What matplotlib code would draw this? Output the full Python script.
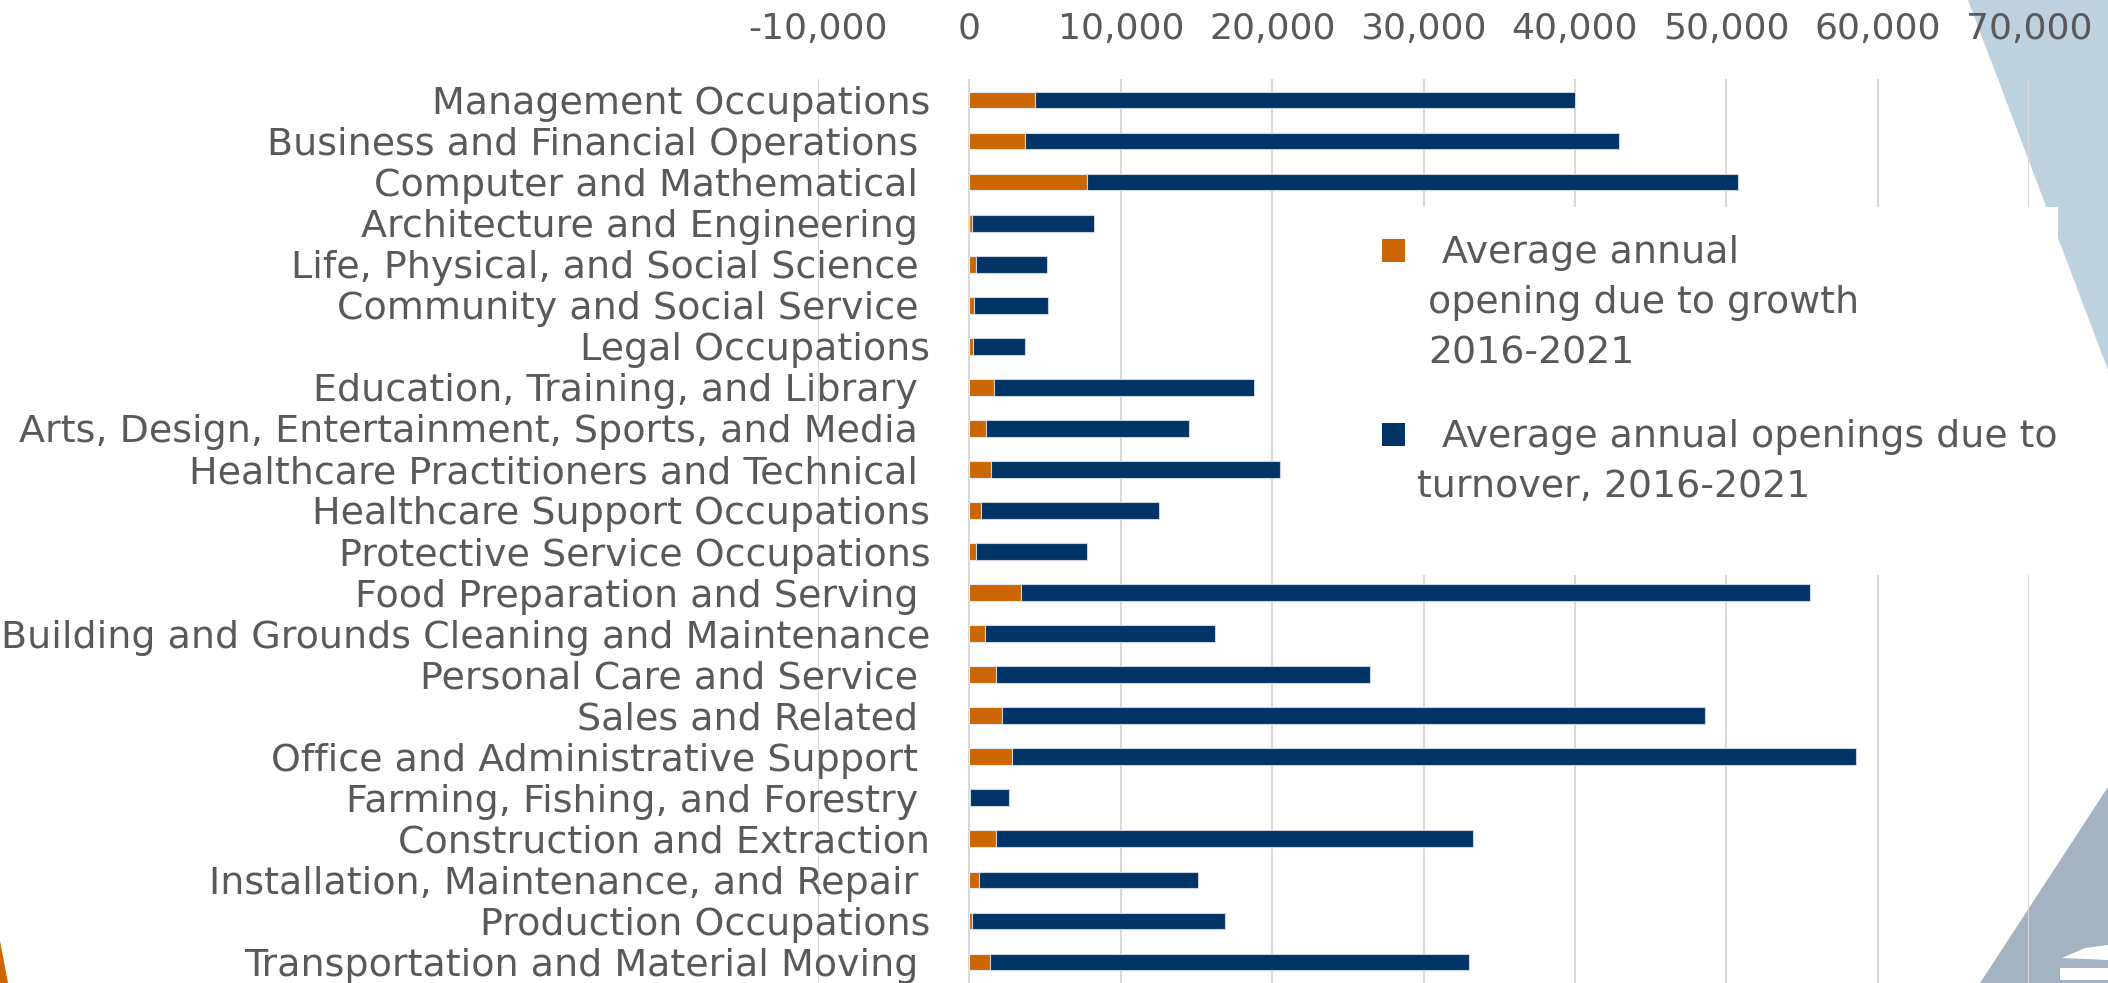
import matplotlib
matplotlib.use("Agg")
import matplotlib.pyplot as plt
from matplotlib.patches import Polygon, Rectangle
import numpy as np

plt.rcParams['font.family'] = ['DejaVu Sans']
plt.rcParams['axes.unicode_minus'] = False

# categories, top to bottom
categories = [
    "Management Occupations",
    "Business and Financial Operations ",
    "Computer and Mathematical ",
    "Architecture and Engineering ",
    "Life, Physical, and Social Science ",
    "Community and Social Service ",
    "Legal Occupations",
    "Education, Training, and Library ",
    "Arts, Design, Entertainment, Sports, and Media ",
    "Healthcare Practitioners and Technical ",
    "Healthcare Support Occupations",
    "Protective Service Occupations",
    "Food Preparation and Serving ",
    "Building and Grounds Cleaning and Maintenance",
    "Personal Care and Service ",
    "Sales and Related ",
    "Office and Administrative Support ",
    "Farming, Fishing, and Forestry ",
    "Construction and Extraction",
    "Installation, Maintenance, and Repair ",
    "Production Occupations",
    "Transportation and Material Moving ",
]

# average annual openings due to growth 2016-2021
growth = [4340, 3700, 7770, 180, 430, 330, 220, 1600, 1070, 1430, 800, 450,
          3400, 1000, 1780, 2160, 2840, 50, 1790, 620, 200, 1340]

totals = [40000, 42900, 50800, 8200, 5100, 5200, 3700, 18800, 14500, 20500,
          12500, 7750, 55500, 16200, 26450, 48600, 58600, 2600, 33300, 15100,
          16900, 33000]

turnover = [t - g for t, g in zip(totals, growth)]

xticks = [-10000, 0, 10000, 20000, 30000, 40000, 50000, 60000, 70000]

legend_labels = ["Average annual\nopening due to growth\n2016-2021",
                 "Average annual openings due to\nturnover, 2016-2021"]

orange = "#CC6600"
navy = "#003366"
txt = "#595959"
grid = "#D9D9D9"

W, H = 2108, 983
fig = plt.figure(figsize=(W / 100, H / 100), dpi=100)
fig.patch.set_facecolor("white")

# background decorations (pixel coords -> figure fraction)
def px(pts):
    return [(x / W, 1 - y / H) for x, y in pts]

fig.patches.append(Polygon(px([(1968, 0), (2108, 0), (2108, 370)]), closed=True,
                           transform=fig.transFigure, facecolor="#BED1DF",
                           edgecolor="none", zorder=-5))
fig.patches.append(Polygon(px([(1980, 983), (2108, 787), (2108, 983)]), closed=True,
                           transform=fig.transFigure, facecolor="#A3B3C1",
                           edgecolor="none", zorder=-5))
fig.patches.append(Polygon(px([(2062, 958), (2085, 948), (2108, 945), (2108, 960)]),
                           closed=True, transform=fig.transFigure, facecolor="white",
                           edgecolor="none", zorder=-4))
fig.patches.append(Rectangle((2060 / W, 1 - 980 / H), 48 / W, 12 / H,
                             transform=fig.transFigure, facecolor="white",
                             edgecolor="none", zorder=-4))
fig.patches.append(Polygon(px([(0, 941), (0, 983), (8, 983)]), closed=True,
                           transform=fig.transFigure, facecolor=orange,
                           edgecolor="none", zorder=-5))

ax_top = 79
ax = fig.add_axes([818 / W, 0, (2029 - 818) / W, (H - ax_top) / H])
ax.patch.set_alpha(0)

y = np.arange(len(categories))
bh = 0.41
ax.barh(y, growth, height=bh, color=orange, edgecolor="#E3E8EE", linewidth=0.8,
        zorder=3)
ax.barh(y, turnover, left=growth, height=bh, color=navy, edgecolor="#C9D3DE",
        linewidth=0.8, zorder=3)

ax.set_xlim(-10000, 70000)
ax.set_ylim(21.51, -0.51)

ax.set_xticks(xticks)
ax.set_xticklabels([f"{v:,}" for v in xticks])
ax.xaxis.tick_top()
ax.tick_params(axis="x", length=0, pad=24, labelsize=26, labelcolor=txt)

ax.set_yticks(y)
ax.set_yticklabels(categories)
ax.tick_params(axis="y", length=0, pad=28, labelsize=27.4, labelcolor=txt)

for s in ax.spines.values():
    s.set_visible(False)
ax.spines["left"].set_position(("data", 0))

ax.grid(axis="x", color=grid, linewidth=1.5, zorder=0)
ax.set_axisbelow(True)

# legend box drawn by hand (white panel over grid and corner shape)
fig.patches.append(Rectangle((1370 / W, 1 - 575 / H), (2058 - 1370) / W, (575 - 207) / H,
                             transform=fig.transFigure, facecolor="white",
                             edgecolor="none", zorder=5))
marker_y = [239, 423]
line_x = [(1442, 1428), (1442, 1417)]
first_base = [263, 447]
for col, my, lab, (x1, x2), b in zip([orange, navy], marker_y, legend_labels,
                                      line_x, first_base):
    fig.patches.append(Rectangle((1382 / W, 1 - (my + 23) / H), 23 / W, 23 / H,
                                 transform=fig.transFigure, facecolor=col,
                                 edgecolor="none", zorder=6))
    for k, line in enumerate(lab.split("\n")):
        xx = x1 if k == 0 else x2
        fig.text(xx / W, 1 - (b + 50 * k) / H, line, fontsize=27.3, color=txt,
                 ha="left", va="baseline", zorder=7)

fig.savefig("out.png", dpi=100)
